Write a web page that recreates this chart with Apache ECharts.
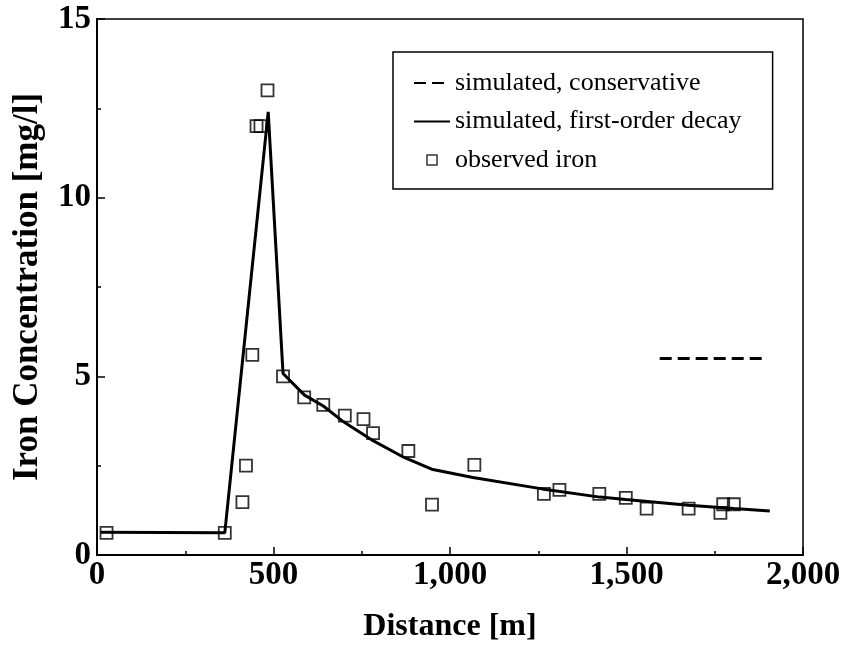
<!DOCTYPE html>
<html>
<head>
<meta charset="utf-8">
<script src="https://cdn.jsdelivr.net/npm/echarts@6/dist/echarts.min.js"></script>
<style>
html,body{margin:0;padding:0;background:#fff;}
#chart{width:841px;height:648px;}
</style>
</head>
<body>
<div id="chart"></div>
<script>
// Observed iron
const obsX = [27, 362, 412, 422, 440, 452, 463, 483, 527, 587, 641, 702, 755, 782, 882, 949, 1069, 1266, 1310, 1423, 1498, 1557, 1676, 1766, 1774, 1804];
const obsY = [0.62, 0.62, 1.48, 2.5, 5.6, 12.0, 12.0, 13.0, 5.0, 4.41, 4.2, 3.9, 3.8, 3.41, 2.91, 1.41, 2.52, 1.71, 1.82, 1.71, 1.6, 1.3, 1.3, 1.18, 1.42, 1.42];
// Simulated, first-order decay
const decayX = [10, 362, 485, 527, 587, 641, 694, 782, 870, 948, 1065, 1261, 1425, 1498, 1676, 1804, 1906];
const decayY = [0.64, 0.62, 12.4, 5.08, 4.48, 4.17, 3.76, 3.2, 2.73, 2.4, 2.17, 1.85, 1.62, 1.55, 1.39, 1.3, 1.23];
// Simulated, conservative
const consX = [1594, 1885];
const consY = [5.5, 5.5];
// Axis ticks
const xTicks = [0, 500, 1000, 1500, 2000];
const yTicks = [0, 5, 10, 15];
const seriesNames = ['simulated, conservative', 'simulated, first-order decay', 'observed iron'];

const zip = (a, b) => a.map((v, i) => [v, b[i]]);
const serif = '"Liberation Serif", "Times New Roman", serif';

const chart = echarts.init(document.getElementById('chart'), null, {renderer: 'canvas'});
chart.setOption({
  animation: false,
  backgroundColor: '#fff',
  grid: {
    left: 97, right: 38, top: 19, bottom: 93,
    outerBoundsMode: 'none', containLabel: false,
    show: true, borderColor: '#000', borderWidth: 1.5, backgroundColor: 'transparent'
  },
  legend: {
    orient: 'vertical',
    left: 393, top: 52,
    padding: [18, 31, 16, 20],
    itemGap: 12.5,
    itemWidth: 36,
    itemHeight: 10,
    itemTextGap: 20,
    symbolKeepAspect: true,
    borderColor: '#000',
    borderWidth: 1.5,
    borderRadius: 0,
    backgroundColor: '#fff',
    textStyle: {fontFamily: serif, fontSize: 26, color: '#000'},
    data: [
      {name: seriesNames[0], itemStyle: {opacity: 0}},
      {name: seriesNames[1], itemStyle: {opacity: 0}},
      {name: seriesNames[2], icon: 'path://M0,0h10v10h-10z',
       itemStyle: {color: '#fff', borderColor: '#000', borderWidth: 1.5}}
    ]
  },
  xAxis: {
    type: 'value',
    min: xTicks[0], max: xTicks[xTicks.length - 1], interval: xTicks[1] - xTicks[0],
    name: 'Distance [m]', nameLocation: 'middle', nameGap: 56,
    nameTextStyle: {fontFamily: serif, fontSize: 32, fontWeight: 'bold', color: '#000'},
    axisLine: {show: true, onZero: false, lineStyle: {color: '#000', width: 2}},
    axisTick: {show: true, inside: true, length: 8, lineStyle: {color: '#000', width: 1.5}},
    minorTick: {show: true, splitNumber: 2, length: 4, lineStyle: {color: '#000', width: 1.5}},
    splitLine: {show: false},
    axisLabel: {
      margin: 4, fontFamily: serif, fontSize: 33, fontWeight: 'bold', color: '#000',
      formatter: v => v.toLocaleString('en-US')
    }
  },
  yAxis: {
    type: 'value',
    min: yTicks[0], max: yTicks[yTicks.length - 1], interval: yTicks[1] - yTicks[0],
    name: 'Iron Concentration [mg/l]', nameLocation: 'middle', nameGap: 52,
    nameTextStyle: {fontFamily: serif, fontSize: 35, fontWeight: 'bold', color: '#000'},
    axisLine: {show: true, onZero: false, lineStyle: {color: '#000', width: 2}},
    axisTick: {show: true, inside: true, length: 8, lineStyle: {color: '#000', width: 1.5}},
    minorTick: {show: true, splitNumber: 2, length: 4, lineStyle: {color: '#000', width: 1.5}},
    splitLine: {show: false},
    axisLabel: {margin: 6, fontFamily: serif, fontSize: 33, fontWeight: 'bold', color: '#000'}
  },
  series: [
    {
      name: seriesNames[0], type: 'line', data: zip(consX, consY),
      symbol: 'none', color: '#000',
      lineStyle: {color: '#000', width: 3, type: [12, 6]}
    },
    {
      name: seriesNames[1], type: 'line', data: zip(decayX, decayY),
      symbol: 'none', color: '#000',
      lineStyle: {color: '#000', width: 3}
    },
    {
      name: seriesNames[2], type: 'scatter', data: zip(obsX, obsY),
      symbol: 'rect', symbolSize: 12, color: '#000',
      itemStyle: {color: 'transparent', borderColor: '#000', borderWidth: 1.8}
    }
  ]
});
</script>
</body>
</html>
